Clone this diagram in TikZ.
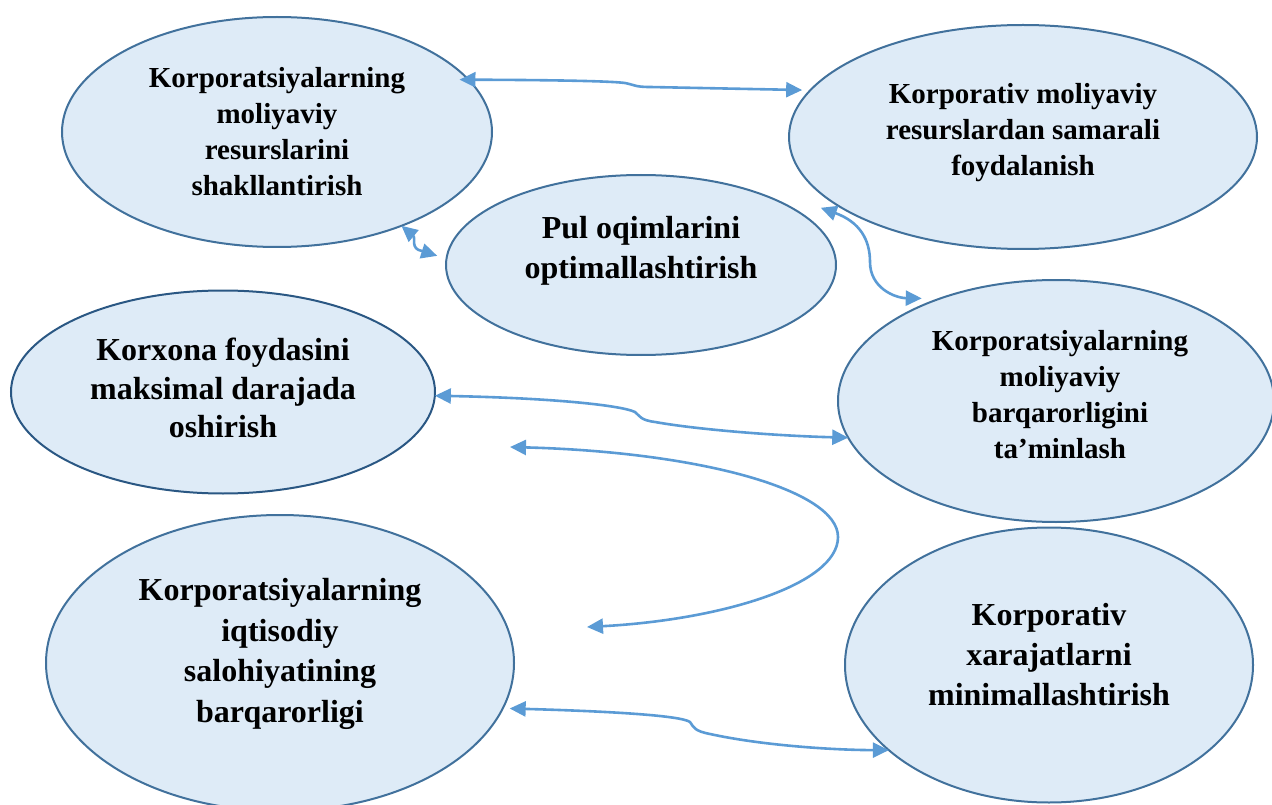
\documentclass[tikz,border=0pt]{standalone}
\usepackage{fontspec}
\setmainfont{Liberation Serif}
\usetikzlibrary{shapes.geometric,arrows.meta,calc}
\definecolor{bubblefill}{HTML}{DEEBF7}
\definecolor{bubbleline}{HTML}{41719C}
\definecolor{bubbledark}{HTML}{2A5783}
\definecolor{linkblue}{HTML}{5B9BD5}

\begin{document}
\begin{tikzpicture}[x=1pt,y=-1pt,
  bubble/.style={ellipse, draw=bubbleline, fill=bubblefill, line width=2pt,
    inner sep=0pt, outer sep=0pt},
  caption/.style={align=center, inner sep=0pt, text=black},
  smalltext/.style={font=\fontsize{29}{36}\selectfont\bfseries},
  bigtext/.style={font=\fontsize{32}{40}\selectfont\bfseries},
  link/.style={draw=linkblue, line width=2.6pt,
    {Triangle[length=16pt,width=15pt]}-{Triangle[length=16pt,width=15pt]}},
]
\useasboundingbox (0,0) rectangle (1272,805);

% ellipses
\node[bubble, minimum width=430pt, minimum height=230pt] (e1) at (277,132) {};
\node[bubble, minimum width=468pt, minimum height=224pt] (e2) at (1023,137) {};
\node[bubble, minimum width=390pt, minimum height=180pt] (e3) at (641,265) {};
\node[bubble, draw=bubbledark, minimum width=424pt, minimum height=203pt] (e4) at (223,392) {};
\node[bubble, minimum width=436pt, minimum height=242pt] (e5) at (1056,401) {};
\node[bubble, minimum width=468pt, minimum height=296pt] (e6) at (280,663) {};
\node[bubble, minimum width=408pt, minimum height=275pt] (e7) at (1049,665) {};

% captions
\node[caption, smalltext] (t1) at (e1.center)
  {Korporatsiyalarning\\moliyaviy\\resurslarini\\shakllantirish};
\node[caption, smalltext, yshift=4pt] (t2) at (e2.center)
  {Korporativ moliyaviy\\resurslardan samarali\\foydalanish};
\node[caption, bigtext, yshift=14pt] (t3) at (e3.center)
  {Pul oqimlarini\\optimallashtirish};
\node[caption, font=\fontsize{32}{38.5}\selectfont\bfseries, yshift=4pt] (t4) at (e4.center)
  {Korxona foydasini\\maksimal darajada\\oshirish};
\node[caption, smalltext, yshift=6pt, xshift=4pt] (t5) at (e5.center)
  {Korporatsiyalarning\\moliyaviy\\barqarorligini\\ta’minlash};
\node[caption, font=\fontsize{32}{40.5}\selectfont\bfseries, yshift=9pt] (t6) at (e6.center)
  {Korporatsiyalarning\\iqtisodiy\\salohiyatining\\barqarorligi};
\node[caption, bigtext, yshift=10pt] (t7) at (e7.center)
  {Korporativ\\xarajatlarni\\minimallashtirish};

% connectors
\draw[link] ($(e1.16)+(-7,2)$) .. controls (550,80) and (610,81) .. (625,83)
  .. controls (635,85) and (635,87) .. (650,87) -- ($(e2.168)+(-7,-1.5)$);

\draw[link] (e1.323) .. controls (416,238) and (410,249) .. (422,251)
  -- ($(e3.177)+(-10,1)$);

\draw[link] ($(e2.200)+(-16,3)$) .. controls (860,222) and (870,240) .. (870,262)
  .. controls (870,288) and (895,298) .. ($(e5.142)+(-8,-4)$);

\draw[link] (e4.359) .. controls (550,398) and (620,405) .. (635,412)
  .. controls (640,416) and (640,420) .. (655,422)
  .. controls (700,430) and (780,436) .. (e5.190);

\coordinate (c5a) at (510,447);
\coordinate (c5b) at (587,627);
\draw[link] (c5a) .. controls (700,452) and (838,490) .. (838,537)
  .. controls (838,585) and (720,620) .. (c5b);

\draw[link] ($(e6.349)+(6,2)$) .. controls (600,711) and (680,715) .. (690,722)
  .. controls (694,728) and (695,731) .. (710,734)
  .. controls (760,745) and (830,750) .. (e7.208);
\end{tikzpicture}
\end{document}
